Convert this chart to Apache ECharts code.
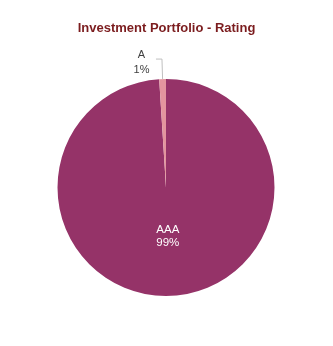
<!DOCTYPE html>
<html>
<head>
<meta charset="utf-8">
<script src="https://cdn.jsdelivr.net/npm/echarts@6/dist/echarts.min.js"></script>
<style>html,body{margin:0;padding:0;background:#fff}#c{width:333px;height:346px}</style>
</head>
<body>
<div id="c"></div>
<script>
var categories = ['AAA', 'A'];
var values = [99, 1];
var colors = ['#953368', '#E3959E'];
var titleText = 'Investment Portfolio - Rating';

var data = categories.map(function (name, i) {
  var item = { name: name, value: values[i], itemStyle: { color: colors[i] } };
  if (i === 0) {
    item.label = {
      position: 'inside', color: '#ffffff', fontSize: 11.5,
      formatter: '{t|{b}}\n{t|{d}%}\n{s| }',
      rich: { t: { lineHeight: 13, fontSize: 11.5, color: '#ffffff' }, s: { lineHeight: 16, fontSize: 2 } }
    };
    item.labelLine = { show: false };
  } else {
    item.label = {
      position: 'outside', color: '#404040', fontSize: 11, distanceToLabelLine: 7,
      formatter: '{t|{b}}\n{t|{d}%}',
      padding: [7, 0, 0, 0],
      rich: { t: { width: 15, align: 'center', lineHeight: 14.5, fontSize: 11, color: '#404040' } }
    };
    item.labelLine = { show: true, length: 20, length2: 6, lineStyle: { color: '#BFBFBF', width: 1 } };
  }
  return item;
});

var chart = echarts.init(document.getElementById('c'), null, { renderer: 'canvas' });
chart.setOption({
  animation: false,
  title: {
    text: titleText,
    left: 'center',
    top: 17,
    textStyle: { color: '#7B1C1E', fontSize: 13, fontWeight: 'bold', fontFamily: 'Liberation Sans, Arial, sans-serif' }
  },
  series: [{
    type: 'pie',
    center: [166, 187.5],
    radius: [0, 108.5],
    startAngle: 90,
    clockwise: true,
    avoidLabelOverlap: false,
    label: { show: true, formatter: '{b}\n{d}%', fontFamily: 'Liberation Sans, Arial, sans-serif' },
    emphasis: { disabled: true },
    data: data
  }]
});
</script>
</body>
</html>
